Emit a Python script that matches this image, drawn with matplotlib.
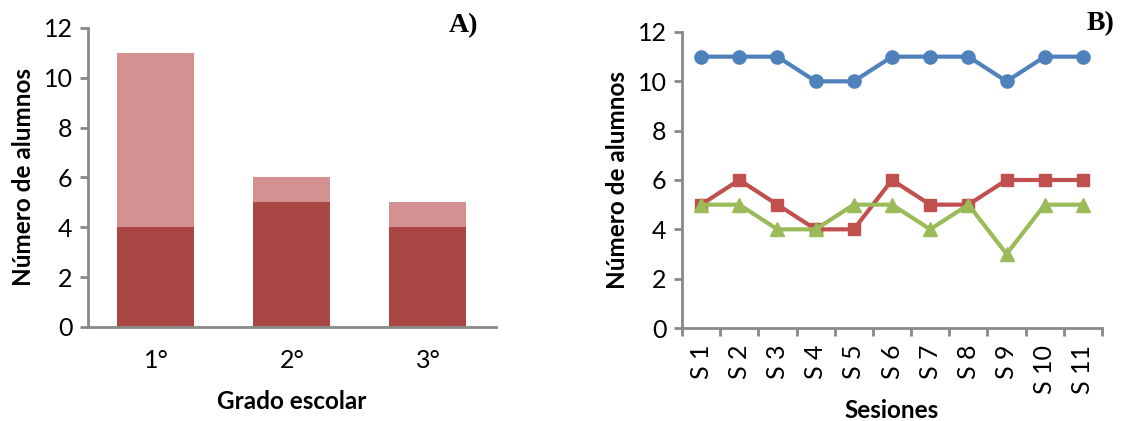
import numpy as np
from matplotlib import pyplot as plt

# panel A data
grados = ['1°', '2°', '3°']
base = [4, 5, 4]
resto = [7, 1, 1]

# panel B data
sesiones = ['S 1', 'S 2', 'S 3', 'S 4', 'S 5', 'S 6', 'S 7', 'S 8', 'S 9', 'S 10', 'S 11']
serie_azul = [11, 11, 11, 10, 10, 11, 11, 11, 10, 11, 11]
serie_roja = [5, 6, 5, 4, 4, 6, 5, 5, 6, 6, 6]
serie_verde = [5, 5, 4, 4, 5, 5, 4, 5, 3, 5, 5]

GRIS = '#898989'
plt.rcParams['font.family'] = ['Lato', 'DejaVu Sans']

fig = plt.figure(figsize=(11.28, 4.21), dpi=100)


def estilo(ax):
    for s in ['top', 'right']:
        ax.spines[s].set_visible(False)
    for s in ['left', 'bottom']:
        ax.spines[s].set_color(GRIS)
        ax.spines[s].set_linewidth(2)
    ax.set_ylim(0, 12)
    ax.set_yticks(range(0, 13, 2))
    ax.tick_params(axis='y', colors=GRIS, labelcolor='black', labelsize=18,
                   length=6, width=2, direction='out', pad=5)
    ax.set_ylabel('Número de alumnos', fontsize=17.5, fontweight='bold', labelpad=6)


# A) barras apiladas
ax1 = fig.add_axes([0.078, 0.2233, 0.3617, 0.7102])
x = np.arange(len(grados))
ax1.bar(x, base, width=0.566, color='#AA4744')
ax1.bar(x, resto, bottom=base, width=0.566, color='#D39291')
ax1.set_xlim(-0.5, 2.5)
ax1.set_xticks(x)
ax1.set_xticklabels(grados)
ax1.tick_params(axis='x', length=0, labelsize=18, pad=16)
estilo(ax1)
ax1.set_xlabel('Grado escolar', fontsize=17.5, fontweight='bold', labelpad=13)
ax1.text(0.956, 1.05, 'A)', transform=ax1.transAxes, ha='right', va='top',
         fontsize=20, fontweight='bold', family='Liberation Serif')

# B) lineas por sesion
ax2 = fig.add_axes([0.6046, 0.2209, 0.3724, 0.7031])
xs = np.arange(len(sesiones))
ax2.plot(xs, serie_azul, color='#4F81BD', lw=3, marker='o', ms=9.5)
ax2.plot(xs, serie_roja, color='#C0504D', lw=3, marker='s', ms=8)
ax2.plot(xs, serie_verde, color='#9BBB59', lw=3, marker='^', ms=10)
ax2.set_xlim(-0.5, len(sesiones) - 0.5)
ax2.set_xticks(np.arange(-0.5, len(sesiones)), minor=False)
ax2.set_xticklabels([])
ax2.set_xticks(xs, minor=True)
ax2.set_xticklabels(sesiones, minor=True, rotation=90)
ax2.tick_params(axis='x', which='major', colors=GRIS, length=6, width=2)
ax2.tick_params(axis='x', which='minor', length=0, labelsize=18, pad=12)
estilo(ax2)
ax2.set_xlabel('Sesiones', fontsize=17.5, fontweight='bold', labelpad=4)
ax2.text(1.03, 1.07, 'B)', transform=ax2.transAxes, ha='right', va='top',
         fontsize=20, fontweight='bold', family='Liberation Serif')

fig.savefig('out.png', dpi=100)
